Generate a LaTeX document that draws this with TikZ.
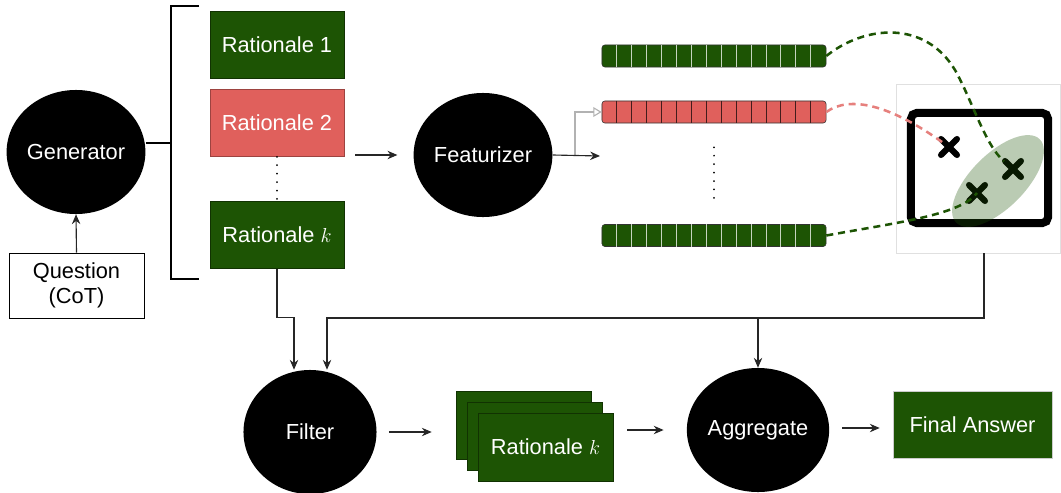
\documentclass[tikz,border=0pt]{standalone}
\usepackage{fontspec}
\setmainfont{Liberation Sans}
\usetikzlibrary{arrows.meta,calc,shapes.geometric}
\definecolor{ratgreen}{HTML}{1D5404}
\definecolor{ratred}{HTML}{E0605C}
\def\xmark(#1){\draw[line width=4.3pt, line cap=round] ($(#1)+(-8,-8)$) -- ($(#1)+(8,8)$) ($(#1)+(-8,8)$) -- ($(#1)+(8,-8)$);}
\tikzset{
	every node/.style={font=\fontsize{15.5}{18}\selectfont},
	blob/.style={ellipse, fill=black, text=white, minimum width=3.4cm, minimum height=3.1cm, inner sep=0pt},
	ratbox/.style={rectangle, draw=ratgreen!60!black, fill=ratgreen, text=white, minimum width=3.35cm, minimum height=1.675cm, inner sep=0pt},
	badbox/.style={ratbox, draw=ratred!70!black, fill=ratred},
	vecbar/.style={rectangle, rounded corners=2pt, draw=black!80, minimum width=5.6cm, minimum height=0.55cm, inner sep=0pt},
	arr/.style={-{Stealth[length=7pt,width=6pt]}, line width=0.8pt, draw=black!85},
	guide/.style={dash pattern=on 5pt off 3.5pt, line width=1.8pt},
	dots/.style={line width=1.4pt, line cap=round, dash pattern=on 0pt off 6pt},
}

\begin{document}
\begin{tikzpicture}[x=0.025cm, y=-0.025cm]
			%%%%% START %%%%%
			\useasboundingbox (0,0) rectangle (1061,493);
			
			\node[blob] (gen) at (76,152) {Generator};
			\node[draw, fill=white, align=center, minimum width=3.375cm, minimum height=1.625cm, inner sep=0pt] (q) at (76.5,285.5) {Question\\(CoT)};
			\draw[arr] (q.north) -- (gen.south);
			
			\coordinate (bt) at (199,6);
			\coordinate (bb) at (199,279);
			\coordinate (bx) at (171,143);
			\draw[line width=1.4pt] (bt) -- ++(-28,0) |- (bb);
			\draw[line width=1.4pt] (bx) -- (bx -| gen.east);
			
			\node[ratbox] (r1) at (277,44.5) {Rationale 1};
			\node[badbox] (r2) at (277,123) {Rationale 2};
			\node[ratbox] (rk) at (277,235) {Rationale $k$};
			\draw[dots] (r2.south) -- (rk.north);
			
			\node[blob, minimum width=3.375cm] (feat) at (483,155) {Featurizer};
			\draw[arr, shorten <=0.275cm, shorten >=0.4cm] (r2.east |- feat.west) -- (feat.west);
			
			\node[vecbar, fill=ratgreen] (vec1) at (714,56) {};
			\node[vecbar, fill=ratred] (vec2) at (714,112) {};
			\node[vecbar, fill=ratgreen] (veck) at (714,235.5) {};
			\foreach \b/\dc in {vec1/white!75!ratgreen, vec2/black!70!ratred, veck/white!75!ratgreen}
				\foreach \i in {1,...,14}
					\draw[\dc, line width=0.6pt] ($(\b.north west)+(\i*14.93,0)$) -- ($(\b.south west)+(\i*14.93,0)$);
			\draw[dots, shorten <=0.6cm, shorten >=0.575cm] (vec2.south) -- (veck.north);
			
			\coordinate (fout) at (600,156);
			\draw[-{Triangle[open, length=6pt, width=7pt]}, line width=0.8pt, black!30] (feat.east -| 575,0) |- (vec2.west);
			\draw[arr] (feat.east) -- (fout);
			
			% scatter panel
			\node[rectangle, draw=black!12, fill=white, minimum width=4.1cm, minimum height=4.225cm, inner sep=0pt] (plot) at (978,168.5) {};
			\node[rectangle, draw, line width=5.7pt, rounded corners=4pt, minimum width=3.425cm, minimum height=2.75cm, inner sep=0pt] (frame) at (979.5,168) {};
			\coordinate (c1) at (949,147);
			\coordinate (c2) at (1013,169);
			\coordinate (c3) at (977,193);
			\xmark(c1)
			\xmark(c2)
			\xmark(c3)
			
			\draw[guide, ratgreen, shorten >=0.3cm] (vec1.east) .. controls (865,25) and (925,20) .. (955,70) .. controls (972,100) and (985,145) .. (c2);
			\draw[guide, ratred!80!white, shorten >=0.2cm] (vec2.east) .. controls (850,95) and (890,105) .. (c1);
			\draw[guide, ratgreen] (veck.east) .. controls (900,222) and (960,215) .. (c3);
			
			\node[ellipse, fill=ratgreen, fill opacity=0.3, rotate=45, minimum width=2.95cm, minimum height=1.35cm, inner sep=0pt] (cluster) at (998,181) {};
			
			% bottom row
			\node[blob, minimum width=3.325cm] (filter) at (310,432) {Filter};
			\node[ratbox, minimum height=1.7cm, minimum width=3.375cm] (stack1) at (523.5,425) {};
			\node[ratbox, minimum height=1.7cm, minimum width=3.375cm] (stack2) at (534.5,436) {};
			\node[ratbox, minimum height=1.7cm, minimum width=3.375cm] (stack3) at (545.5,447) {Rationale $k$};
			\node[blob, minimum width=3.275cm] (agg) at (758,430) {Aggregate};
			\node[ratbox, draw=black!20, minimum width=3.975cm] (final) at (972.5,424.5) {Final Answer};
			
			\draw[arr] (rk.south) |- ++(0,49) -| ([xshift=-0.4cm]filter.north);
			\coordinate (join) at (984,318);
			\draw[arr] (plot.south -| join) -- (join) -| ([xshift=0.425cm]filter.north);
			\draw[arr] (join -| agg.north) -- (agg.north);
			
			\draw[arr, shorten <=0.3cm, shorten >=0.6cm] (filter.east) -- (filter.east -| stack1.west);
			\draw[arr, shorten <=0.35cm, shorten >=0.575cm] (stack3.east |- agg) -- (agg.west);
			\draw[arr, shorten <=0.325cm, shorten >=0.325cm] ($(agg.east)+(0,-2)$) -- ($(final.west |- agg)+(0,-2)$);
			
			%%%%% END %%%%%
\end{tikzpicture}
\end{document}
